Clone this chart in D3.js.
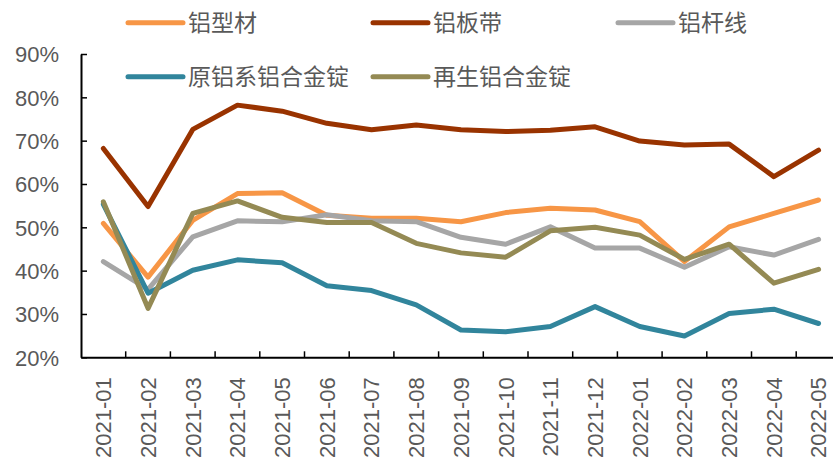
<!DOCTYPE html>
<html>
<head>
<meta charset="utf-8">
<script src="https://cdn.jsdelivr.net/npm/d3@7"></script>
<style>
  body { margin: 0; background: #fff; }
  svg { display: block; font-family: "Liberation Sans", Arial, sans-serif; }
</style>
</head>
<body>
<div id="chart"></div>
<script>
// months on the x axis
const categories = ["2021-01", "2021-02", "2021-03", "2021-04", "2021-05", "2021-06",
    "2021-07", "2021-08", "2021-09", "2021-10", "2021-11", "2021-12",
    "2022-01", "2022-02", "2022-03", "2022-04", "2022-05"];

// series values (%)
const profile = [50.9, 38.5, 51.6, 57.8, 58.0, 52.8, 52.1, 52.1, 51.3, 53.4, 54.4, 54.0, 51.3, 42.1, 50.1, 53.2, 56.3];
const sheet = [68.2, 54.8, 72.6, 78.2, 76.8, 74.0, 72.5, 73.6, 72.5, 72.1, 72.4, 73.2, 69.9, 69.0, 69.2, 61.7, 67.8];
const rod = [42.1, 35.7, 47.8, 51.5, 51.3, 52.9, 51.5, 51.3, 47.7, 46.1, 50.1, 45.2, 45.2, 40.8, 45.5, 43.6, 47.2];
const primaryAlloy = [55.3, 34.8, 40.1, 42.5, 41.8, 36.5, 35.4, 32.1, 26.3, 25.9, 27.1, 31.7, 27.1, 24.9, 30.1, 31.1, 27.8];
const recycledAlloy = [55.9, 31.3, 53.2, 56.1, 52.3, 51.1, 51.1, 46.3, 44.1, 43.1, 49.2, 50.0, 48.2, 42.6, 46.1, 37.1, 40.3];

const seriesNames = ["铝型材", "铝板带", "铝杆线", "原铝系铝合金锭", "再生铝合金锭"];
const seriesValues = [profile, sheet, rod, primaryAlloy, recycledAlloy];
const seriesColors = ["#F79646", "#993300", "#A6A6A6", "#31859C", "#948A54"];

const yTicks = [20, 30, 40, 50, 60, 70, 80, 90];

const width = 833, height = 462;
const textColor = "#595959";

const svg = d3.select("#chart")
    .append("svg")
    .attr("width", width)
    .attr("height", height);

// scales (the last band runs past the right edge, as in the source)
const x = d3.scaleBand()
    .domain(categories)
    .range([81, 81 + 44.7 * categories.length])
    .padding(0);

const y = d3.scaleLinear()
    .domain([20, 90])
    .range([357.3, 54]);

const cx = d => x(d) + x.bandwidth() / 2;

// y axis
const yAxis = svg.append("g")
    .attr("transform", "translate(81,0)")
    .call(d3.axisLeft(y)
        .tickValues(yTicks)
        .tickFormat(d => d + "%")
        .tickSizeInner(-6)
        .tickSizeOuter(0)
        .tickPadding(22));
yAxis.select(".domain").attr("stroke", "#000").attr("stroke-width", 2);
yAxis.selectAll(".tick line").attr("stroke", "#000").attr("stroke-width", 1.5);
yAxis.selectAll("text")
    .attr("fill", textColor)
    .style("font-size", "22px")
    .attr("dy", "0.36em");

// x axis: labels at band centres, tick marks at band edges
const xAxis = svg.append("g")
    .attr("transform", `translate(0,${y(20)})`)
    .call(d3.axisBottom(x).tickSize(0).tickSizeOuter(0));
xAxis.select(".domain").attr("stroke", "#000").attr("stroke-width", 2);
xAxis.selectAll(".tick text")
    .attr("fill", textColor)
    .style("font-size", "22px")
    .style("text-anchor", "end")
    .attr("transform", "rotate(-90)")
    .attr("x", -20)
    .attr("y", 0)
    .attr("dy", "0.36em");

xAxis.selectAll(".edge")
    .data(categories.slice(1).concat(["end"]))
    .enter()
    .append("line")
    .attr("class", "edge")
    .attr("x1", (d, i) => x(categories[0]) + x.bandwidth() * (i + 1))
    .attr("x2", (d, i) => x(categories[0]) + x.bandwidth() * (i + 1))
    .attr("y1", 0)
    .attr("y2", -6)
    .attr("stroke", "#000")
    .attr("stroke-width", 1.5);

// lines
const line = d3.line()
    .x((d, i) => cx(categories[i]))
    .y(d => y(d));

svg.selectAll(".series")
    .data(seriesValues)
    .enter()
    .append("path")
    .attr("class", "series")
    .attr("d", line)
    .attr("fill", "none")
    .attr("stroke", (d, i) => seriesColors[i])
    .attr("stroke-width", 5)
    .attr("stroke-linejoin", "round")
    .attr("stroke-linecap", "round");

// legend, 3 columns
const legend = svg.selectAll(".legend")
    .data(seriesNames)
    .enter()
    .append("g")
    .attr("class", "legend")
    .attr("transform", (d, i) => `translate(${128 + (i % 3) * 245},${22.7 + Math.floor(i / 3) * 54})`);

legend.append("line")
    .attr("x1", 0)
    .attr("x2", 55)
    .attr("stroke", (d, i) => seriesColors[i])
    .attr("stroke-width", 5)
    .attr("stroke-linecap", "round");

legend.append("text")
    .attr("x", 60)
    .attr("dy", "0.35em")
    .attr("fill", textColor)
    .style("font-family", "'Noto Sans CJK SC', sans-serif")
    .style("font-size", "23px")
    .text(d => d);
</script>
</body>
</html>
